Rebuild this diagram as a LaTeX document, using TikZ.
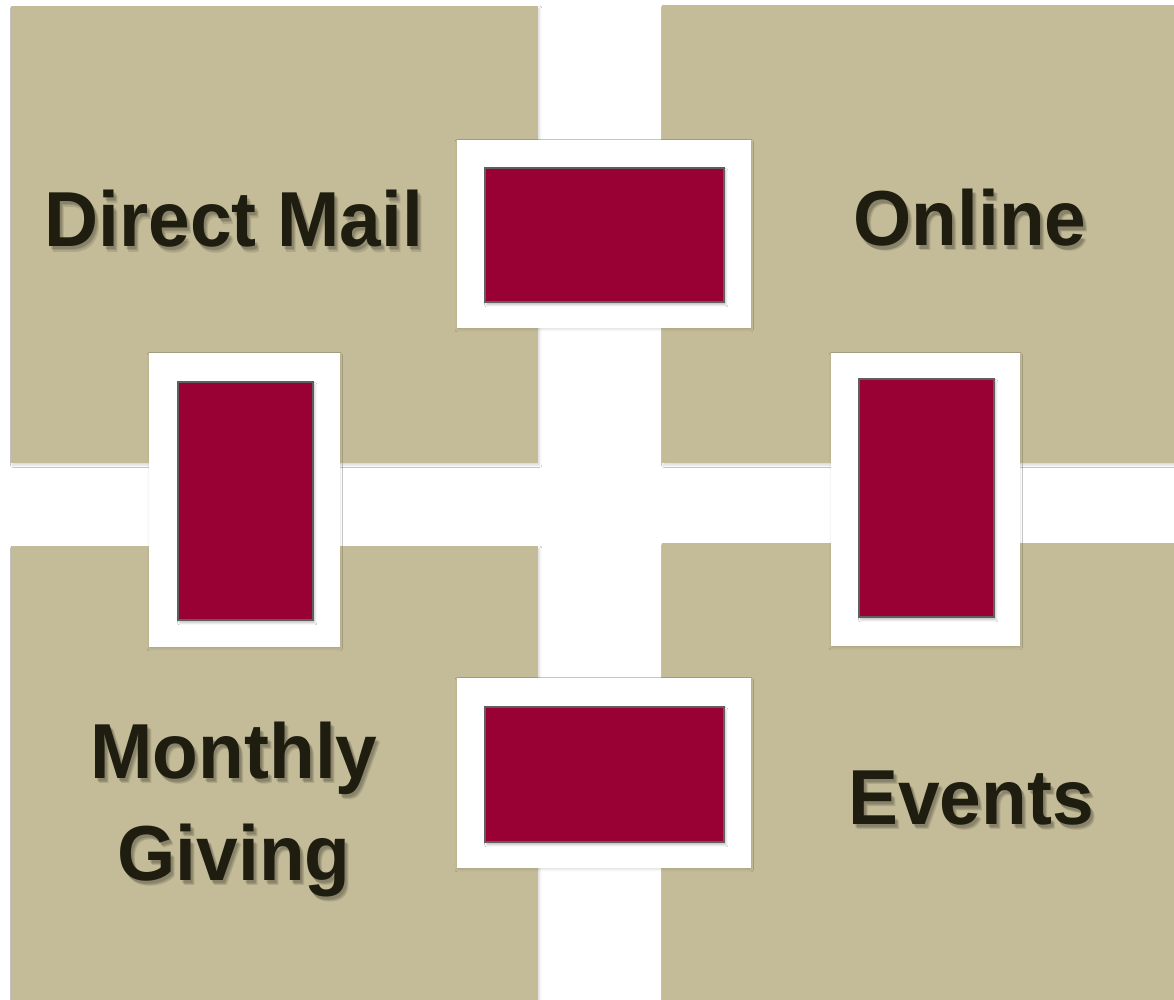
\documentclass[tikz,border=0pt]{standalone}
\usepackage{fontspec}
\setmainfont{Liberation Sans}
\newfontfamily\labelfont[FakeStretch=0.96]{Liberation Sans Bold}
\usetikzlibrary{shadows.blur}
\definecolor{sand}{HTML}{C4BC98}
\definecolor{crimson}{HTML}{990033}
\definecolor{rim}{HTML}{5F5F5F}
\definecolor{ink}{HTML}{1F1D10}
\tikzset{
  quad/.style={fill=sand, draw=none, inner sep=0pt, anchor=north west,
    blur shadow={shadow xshift=1.5pt, shadow yshift=-2pt, shadow opacity=15, shadow blur steps=6}},
  notch/.style={fill=white, draw=none, inner sep=0pt, anchor=north west,
    blur shadow={shadow xshift=0pt, shadow yshift=-1.5pt, shadow opacity=12, shadow blur steps=5}},
  link/.style={fill=crimson, draw=rim, line width=1.6pt, inner sep=0pt, anchor=north west,
    blur shadow={shadow xshift=2pt, shadow yshift=-3pt, shadow opacity=25, shadow blur steps=6}},
  lbl/.style={text=ink, font=\labelfont\fontsize{78}{102}\selectfont, anchor=base, inner sep=0pt},
  lblshadow/.style={lbl, text=black, opacity=0.11}
}
\begin{document}
\begin{tikzpicture}[x=1pt, y=-1pt]
\useasboundingbox (0,0) rectangle (1174,1000);
\fill[white] (0,0) rectangle (1174,1000);

% four channel panels
\node[quad, minimum width=527pt, minimum height=457pt] (tl) at (11,6) {};
\node[quad, minimum width=512pt, minimum height=458pt] (tr) at (662,5) {};
\node[quad, minimum width=527pt, minimum height=454pt] (bl) at (11,546) {};
\node[quad, minimum width=512pt, minimum height=457pt] (br) at (662,543) {};

% white gaps holding the connectors
\node[notch, minimum width=294pt, minimum height=188pt] (gtop) at (457,140) {};
\node[notch, minimum width=191pt, minimum height=294pt] (gleft) at (149,353) {};
\node[notch, minimum width=189pt, minimum height=293pt] (gright) at (831,353) {};
\node[notch, minimum width=294pt, minimum height=190pt] (gbot) at (457,678) {};

% crimson connectors
\node[link, minimum width=239pt, minimum height=134pt] (ctop) at (484,167) {};
\node[link, minimum width=135pt, minimum height=238pt] (cleft) at (177,381) {};
\node[link, minimum width=135pt, minimum height=238pt] (cright) at (858,378) {};
\node[link, minimum width=239pt, minimum height=135pt] (cbot) at (484,706) {};

% soft drop shadows behind the labels, built from a few offset copies
\foreach \dx/\dy [count=\k] in {2/3, 3/4, 4/5} {
  \node[lblshadow] (sdm\k) at (234+\dx,247+\dy) {Direct Mail};
  \node[lblshadow] (son\k) at (970+\dx,246+\dy) {Online};
  \node[lblshadow] (smo\k) at (234+\dx,778+\dy) {Monthly};
  \node[lblshadow] (sgi\k) at (234+\dx,880+\dy) {Giving};
  \node[lblshadow] (sev\k) at (971+\dx,824+\dy) {Events};
}

% labels
\node[lbl] (ldm) at (234,247) {Direct Mail};
\node[lbl] (lon) at (970,246) {Online};
\node[lbl] (lmo) at (234,778) {Monthly};
\node[lbl] (lgi) at (234,880) {Giving};
\node[lbl] (lev) at (971,824) {Events};
\end{tikzpicture}
\end{document}
